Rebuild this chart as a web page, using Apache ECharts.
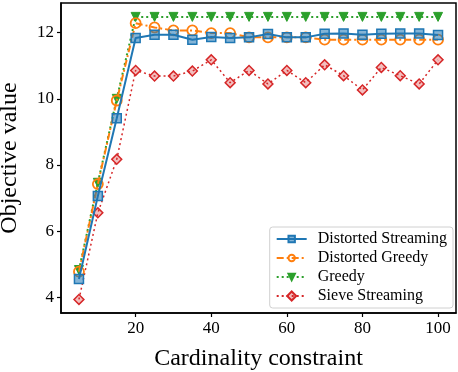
<!DOCTYPE html>
<html>
<head>
<meta charset="utf-8">
<script src="https://cdn.jsdelivr.net/npm/echarts@6/dist/echarts.min.js"></script>
<style>
  html, body { margin: 0; padding: 0; background: #fff; }
  #chart { width: 458px; height: 372px; }
</style>
</head>
<body>
<div id="chart"></div>
<script>
const cardinality = [5, 10, 15, 20, 25, 30, 35, 40, 45, 50, 55, 60, 65, 70, 75, 80, 85, 90, 95, 100]

const distortedStreaming = [4.55, 7.06, 9.41, 11.84, 11.94, 11.94, 11.79, 11.87, 11.84, 11.86, 11.96, 11.86, 11.86, 11.97, 11.98, 11.94, 11.97, 11.98, 11.98, 11.93]
const distortedGreedy = [4.77, 7.42, 9.95, 12.29, 12.16, 12.07, 12.07, 11.99, 11.99, 11.86, 11.86, 11.86, 11.86, 11.79, 11.79, 11.79, 11.79, 11.79, 11.79, 11.79]
const greedy = [4.82, 7.46, 10.0, 12.48, 12.48, 12.48, 12.48, 12.48, 12.48, 12.48, 12.48, 12.48, 12.48, 12.48, 12.48, 12.48, 12.48, 12.48, 12.48, 12.48]
const sieveStreaming = [3.93, 6.55, 8.17, 10.86, 10.69, 10.69, 10.84, 11.18, 10.49, 10.86, 10.45, 10.86, 10.49, 11.03, 10.70, 10.27, 10.95, 10.70, 10.45, 11.18]

const xTicks = [20, 40, 60, 80, 100]
const yTicks = [4, 6, 8, 10, 12]

const font = '"Liberation Serif", "DejaVu Serif", serif'

function pairs(vals) {
  return cardinality.map((c, i) => [c, vals[i]])
}

const chart = echarts.init(document.getElementById('chart'), null, { renderer: 'canvas' })

chart.setOption({
  animation: false,
  backgroundColor: '#fff',
  textStyle: { fontFamily: font },
  grid: {
    left: 61, right: 2, top: 3, bottom: 59,
    outerBoundsMode: 'none',
    containLabel: false,
    show: true, borderColor: '#000', borderWidth: 1.5, backgroundColor: 'transparent'
  },
  legend: {
    orient: 'vertical',
    right: 5,
    bottom: 64,
    itemWidth: 30,
    itemHeight: 8,
    itemGap: 3,
    padding: [4, 6, 4, 6],
    borderColor: '#d0d0d0',
    borderWidth: 1,
    borderRadius: 3,
    backgroundColor: '#fff',
    textStyle: { fontFamily: font, fontSize: 16, color: '#000', padding: [0, 0, 0, 6] },
    data: ['Distorted Streaming', 'Distorted Greedy', 'Greedy', 'Sieve Streaming']
  },
  xAxis: {
    type: 'value',
    min: 0.25,
    max: 104.75,
    name: 'Cardinality constraint',
    nameLocation: 'middle',
    nameGap: 34,
    nameTextStyle: { fontFamily: font, fontSize: 24, color: '#000' },
    splitLine: { show: false },
    axisLine: { show: true, onZero: false, lineStyle: { color: '#000', width: 1.5 } },
    axisTick: { show: true, inside: false, length: 4, lineStyle: { color: '#000', width: 1.2 }, customValues: xTicks },
    axisLabel: { color: '#000', fontSize: 17, fontFamily: font, margin: 7, customValues: xTicks }
  },
  yAxis: {
    type: 'value',
    min: 3.52,
    max: 12.9,
    name: 'Objective value',
    nameLocation: 'middle',
    nameGap: 39,
    nameTextStyle: { fontFamily: font, fontSize: 24, color: '#000' },
    splitLine: { show: false },
    axisLine: { show: true, onZero: false, lineStyle: { color: '#000', width: 1.5 } },
    axisTick: { show: true, inside: false, length: 4, lineStyle: { color: '#000', width: 1.2 }, customValues: yTicks },
    axisLabel: { color: '#000', fontSize: 17, fontFamily: font, margin: 7, customValues: yTicks }
  },
  series: [
    {
      name: 'Distorted Streaming',
      type: 'line',
      data: pairs(distortedStreaming),
      symbol: 'rect',
      symbolSize: 9,
      lineStyle: { color: '#1f77b4', width: 2, type: 'solid' },
      itemStyle: { color: 'rgba(31,119,180,0.55)', borderColor: '#1f77b4', borderWidth: 1.5 },
      z: 4
    },
    {
      name: 'Distorted Greedy',
      type: 'line',
      data: pairs(distortedGreedy),
      symbol: 'circle',
      symbolSize: 10,
      lineStyle: { color: '#ff7f0e', width: 2, type: [7, 3, 2, 3] },
      itemStyle: { color: 'rgba(255,255,255,0)', borderColor: '#ff7f0e', borderWidth: 1.8 },
      z: 3
    },
    {
      name: 'Greedy',
      type: 'line',
      data: pairs(greedy),
      symbol: 'triangle',
      symbolRotate: 180,
      symbolSize: 9,
      lineStyle: { color: '#2ca02c', width: 2, type: [2, 3] },
      itemStyle: { color: '#2ca02c', borderColor: '#2ca02c', borderWidth: 1 },
      z: 2
    },
    {
      name: 'Sieve Streaming',
      type: 'line',
      data: pairs(sieveStreaming),
      symbol: 'rect',
      symbolRotate: 45,
      symbolSize: 7,
      lineStyle: { color: '#d62728', width: 1.5, type: [2, 3] },
      itemStyle: { color: 'rgba(214,39,40,0.3)', borderColor: '#d62728', borderWidth: 1.5 },
      z: 1
    }
  ]
})
</script>
</body>
</html>
